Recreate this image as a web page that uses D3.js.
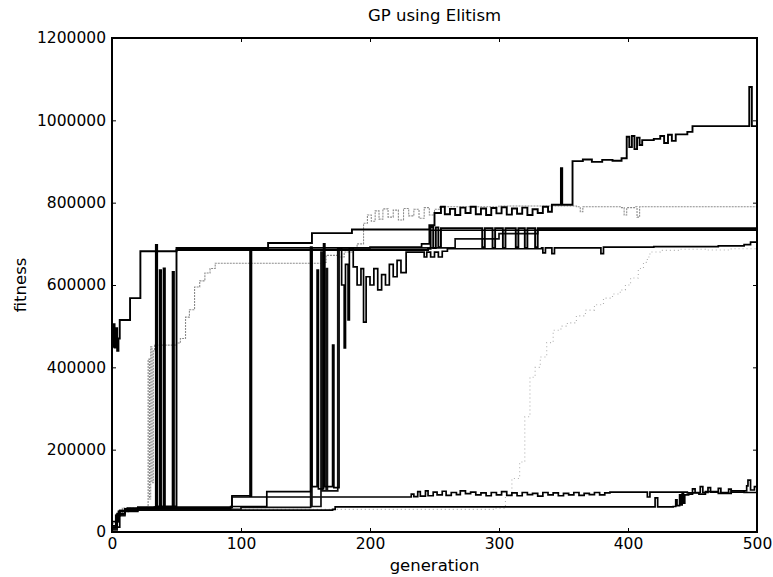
<!DOCTYPE html>
<html><head><meta charset="utf-8">
<script src="https://cdn.jsdelivr.net/npm/d3@7/dist/d3.min.js"></script>
<style>body{margin:0;background:#fff}text{font-family:"DejaVu Sans",sans-serif}</style>
</head><body><svg id="c" width="773" height="577"></svg>
<script>
const xTicks = [0,100,200,300,400,500];
const yTicks = [0,200000,400000,600000,800000,1000000,1200000];

const runA = [[0,450000],[1,505000],[2,448000],[3,495000],[4,440000],[5,470000],[6,515000],[14,568000],[22,682000],[50,690000],[121,702000],[155,726000],[186,735000],[246,745000],[250,775000],[255,790000],[258,772000],[262,785000],[266,770000],[270,788000],[274,775000],[278,790000],[282,772000],[286,786000],[290,770000],[294,787000],[298,774000],[302,789000],[306,771000],[310,786000],[314,773000],[318,788000],[322,770000],[326,784000],[330,775000],[334,790000],[338,778000],[341,795000],[348,884000],[349,795000],[357,901000],[365,905000],[372,899000],[380,904000],[388,902000],[395,908000],[399,960000],[401,935000],[403,962000],[405,930000],[407,958000],[409,940000],[411,952000],[420,955000],[425,962000],[428,945000],[431,965000],[434,950000],[437,966000],[446,972000],[450,986000],[493,986000],[494,1081000],[496,986000],[500,986000]];

const runB = [[0,20000],[3,45000],[8,58000],[27,60000],[28,420000],[29,80000],[30,450000],[31,120000],[32,440000],[33,454000],[50,459000],[53,470000],[57,522000],[60,540000],[64,595000],[68,610000],[72,629000],[76,640000],[80,653000],[164,655000],[166,672000],[175,668000],[180,680000],[186,690000],[190,700000],[195,750000],[198,770000],[201,755000],[204,780000],[207,760000],[210,785000],[214,765000],[218,782000],[222,758000],[226,786000],[230,768000],[234,784000],[238,762000],[242,788000],[246,770000],[250,784000],[254,790000],[300,792000],[360,790000],[363,778000],[365,790000],[395,788000],[397,770000],[399,788000],[405,790000],[407,765000],[409,790000],[430,790000],[500,792000]];

const runC = [[0,10000],[3,40000],[6,52000],[12,58000],[33,60000],[34,697000],[35,62000],[37,636000],[38,62000],[40,640000],[41,62000],[47,632000],[48,62000],[50,685000],[245,688000],[247,741000],[249,690000],[251,740000],[253,692000],[255,738000],[285,738000],[287,692000],[289,738000],[293,738000],[295,690000],[297,738000],[301,738000],[303,690000],[305,738000],[311,738000],[313,692000],[315,738000],[318,738000],[320,690000],[322,738000],[326,738000],[328,692000],[330,738000],[500,738000]];

const runD = [[0,15000],[4,45000],[10,56000],[92,60000],[93,88000],[107,88000],[108,690000],[200,692000],[240,700000],[246,733000],[500,733000]];

const runE = [[0,12000],[6,52000],[20,60000],[93,62000],[120,98000],[153,98000],[154,690000],[155,110000],[159,636000],[160,105000],[164,700000],[165,110000],[171,454000],[172,108000],[176,690000],[178,600000],[180,447000],[181,650000],[183,515000],[184,690000],[187,644000],[190,600000],[193,640000],[195,510000],[197,620000],[200,600000],[203,640000],[206,588000],[209,625000],[212,600000],[215,650000],[218,620000],[221,660000],[224,630000],[228,680000],[240,680000],[242,668000],[244,680000],[247,668000],[250,680000],[253,668000],[256,682000],[260,688000],[333,690000],[334,678000],[336,690000],[340,690000],[341,676000],[343,690000],[378,690000],[379,676000],[381,692000],[420,693000],[470,695000],[490,698000],[495,704000],[500,704000]];

const runF = [[0,5000],[4,40000],[10,55000],[100,60000],[153,60000],[154,692000],[155,62000],[162,680000],[163,100000],[166,640000],[167,100000],[175,690000],[265,690000],[266,712000],[300,725000],[330,735000],[500,735000]];

const runG = [[0,18000],[5,48000],[15,55000],[296,58000],[305,90000],[310,130000],[316,170000],[320,280000],[324,376000],[328,400000],[332,425000],[337,460000],[342,490000],[348,500000],[353,508000],[360,525000],[367,539000],[374,552000],[381,568000],[388,578000],[394,588000],[398,600000],[402,617000],[408,640000],[412,655000],[415,668000],[417,680000],[425,684000],[440,687000],[460,685000],[480,688000],[500,688000]];

const runH = [[0,25000],[5,50000],[20,60000],[92,62000],[93,85000],[106,85000],[107,690000],[108,85000],[230,85000],[232,92000],[234,86000],[237,98000],[239,87000],[243,100000],[245,88000],[249,97000],[252,90000],[256,99000],[259,89000],[263,96000],[267,91000],[270,100000],[274,93000],[278,97000],[282,90000],[286,95000],[290,88000],[294,96000],[298,90000],[302,98000],[306,89000],[310,95000],[314,88000],[318,96000],[322,91000],[326,94000],[330,87000],[334,96000],[338,90000],[342,95000],[346,88000],[350,94000],[354,90000],[358,96000],[362,89000],[366,94000],[370,91000],[374,96000],[378,90000],[382,95000],[386,97000],[414,97000],[415,85000],[417,97000],[443,97000],[446,95000],[450,105000],[452,96000],[456,110000],[458,96000],[462,108000],[464,97000],[470,106000],[472,96000],[478,104000],[480,97000],[490,100000],[492,112000],[493,126000],[495,102000],[498,110000],[500,100000]];

const runI = [[0,10000],[4,42000],[10,53000],[171,55000],[173,61000],[420,61000],[421,83000],[423,61000],[435,62000],[437,78000],[438,64000],[440,90000],[441,66000],[442,95000],[443,70000],[444,90000],[447,92000],[450,95000],[455,92000],[460,98000],[470,94000],[480,100000],[490,96000],[500,97000]];

const runs = [
  {d: runG, c: "#b0b0b0", w: 1.1, dash: "1,3"},
  {d: runB, c: "#8c8c8c", w: 1.1, dash: "2,1"},
  {d: runI, c: "#000", w: 1.7},
  {d: runH, c: "#000", w: 1.7},
  {d: runF, c: "#111", w: 1.7},
  {d: runD, c: "#000", w: 1.7},
  {d: runE, c: "#000", w: 1.7},
  {d: runC, c: "#000", w: 1.9},
  {d: runA, c: "#000", w: 1.9}
];

const svg = d3.select("#c");
const L = 112, R = 757, T = 38, B = 532;
const x = d3.scaleLinear().domain([0,500]).range([L,R]);
const y = d3.scaleLinear().domain([0,1200000]).range([B,T]);

svg.append("clipPath").attr("id","clip").append("rect")
  .attr("x",L).attr("y",T).attr("width",R-L).attr("height",B-T);

const line = d3.line().x(d=>x(d[0])).y(d=>y(d[1])).curve(d3.curveStepAfter);
const g = svg.append("g").attr("clip-path","url(#clip)");
runs.forEach(r=>{
  g.append("path").attr("d", line(r.d)).attr("fill","none")
    .attr("stroke", r.c).attr("stroke-width", r.w)
    .attr("stroke-dasharray", r.dash || null).attr("stroke-linejoin","miter");
});

const fmt = d3.format("d");
const ax = [
  svg.append("g").attr("transform",`translate(0,${B})`).call(d3.axisBottom(x).tickValues(xTicks).tickSize(-4).tickPadding(6).tickFormat(fmt)),
  svg.append("g").attr("transform",`translate(0,${T})`).call(d3.axisTop(x).tickValues(xTicks).tickSize(-4).tickFormat("")),
  svg.append("g").attr("transform",`translate(${L},0)`).call(d3.axisLeft(y).tickValues(yTicks).tickSize(-4).tickPadding(6).tickFormat(fmt)),
  svg.append("g").attr("transform",`translate(${R},0)`).call(d3.axisRight(y).tickValues(yTicks).tickSize(-4).tickFormat(""))
];
ax.forEach(a=>{
  a.select(".domain").remove();
  a.selectAll(".tick line").attr("stroke","#000").attr("stroke-width",1);
  a.selectAll("text").attr("font-size","15.5px").attr("fill","#000").attr("font-family","DejaVu Sans, sans-serif");
});

svg.append("rect").attr("x",L).attr("y",T).attr("width",R-L).attr("height",B-T)
  .attr("fill","none").attr("stroke","#000").attr("stroke-width",2);

svg.append("text").attr("x",(L+R)/2).attr("y",21).attr("text-anchor","middle")
  .attr("font-size","16.5px").text("GP using Elitism");
svg.append("text").attr("x",(L+R)/2).attr("y",571).attr("text-anchor","middle")
  .attr("font-size","16.5px").text("generation");
svg.append("text").attr("transform",`translate(26,${(T+B)/2}) rotate(-90)`).attr("text-anchor","middle")
  .attr("font-size","16.5px").text("fitness");
</script></body></html>
